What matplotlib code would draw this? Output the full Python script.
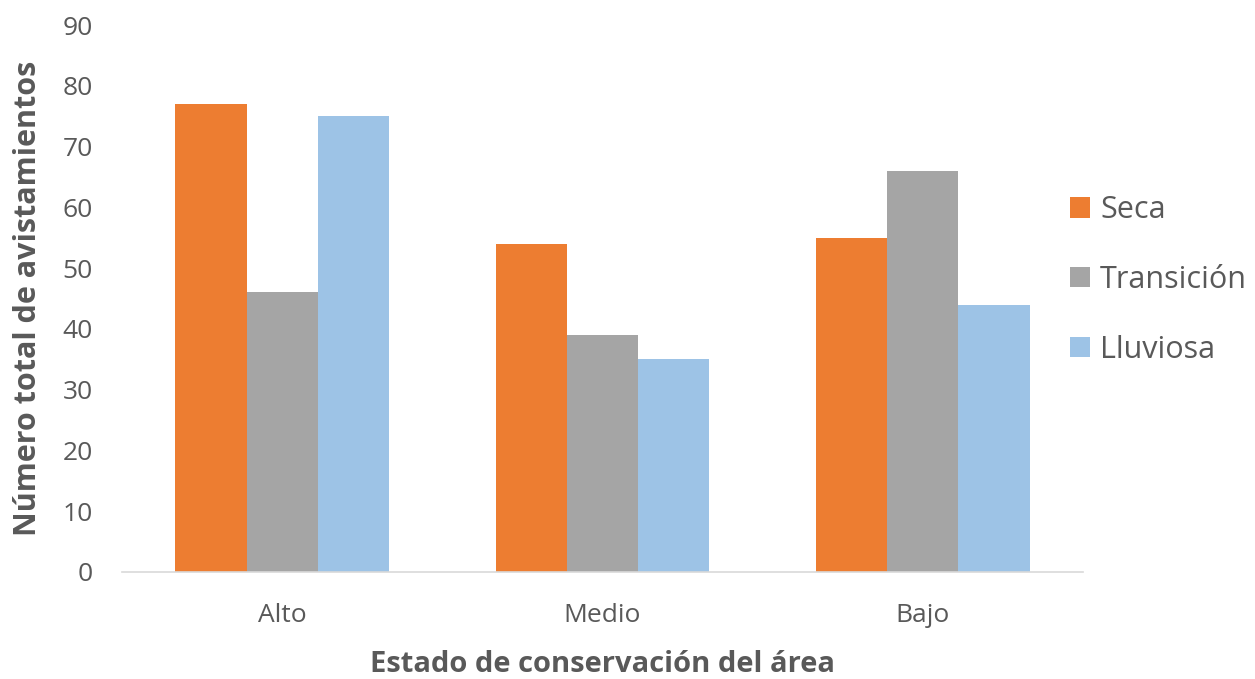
import matplotlib.pyplot as plt
import numpy as np

plt.rcParams['font.family'] = ['Open Sans', 'DejaVu Sans']

categorias = ["Alto", "Medio", "Bajo"]
seca = [77, 54, 55]
transicion = [46, 39, 66]
lluviosa = [75, 35, 44]
series = ["Seca", "Transición", "Lluviosa"]
colores = ["#ED7D31", "#A5A5A5", "#9DC3E6"]

fig = plt.figure(figsize=(12.55, 6.79), dpi=100)
ax = fig.add_axes([0.0972, 0.1576, 0.7658, 0.8054])

x = np.arange(len(categorias))
w = 0.222
for i, (vals, nombre, c) in enumerate(zip([seca, transicion, lluviosa], series, colores)):
    ax.bar(x + (i - 1) * w, vals, width=w, color=c, label=nombre)

ax.set_xlim(-0.5, 2.5)
ax.set_ylim(0, 90)
ax.set_yticks(range(0, 91, 10))
ax.set_xticks(x)
ax.set_xticklabels(categorias)
ax.tick_params(axis='both', length=0, labelsize=19, colors='#595959')
ax.tick_params(axis='y', pad=21)
ax.tick_params(axis='x', pad=22)

for s in ['top', 'right', 'left']:
    ax.spines[s].set_visible(False)
ax.spines['bottom'].set_color('#D9D9D9')
ax.spines['bottom'].set_linewidth(1.2)

ax.set_ylabel("Número total de avistamientos", fontsize=22, fontweight='bold',
              color='#595959', labelpad=14)
ax.set_xlabel("Estado de conservación del área", fontsize=21, fontweight='bold',
              color='#595959', labelpad=16)

fig.legend(loc='center left', bbox_to_anchor=(0.843, 0.5876), frameon=False,
           borderaxespad=0, fontsize=22, labelcolor='#595959', handlelength=0.65,
           handleheight=0.65, labelspacing=1.3, handletextpad=0.33)

fig.savefig("out.png", dpi=100)
